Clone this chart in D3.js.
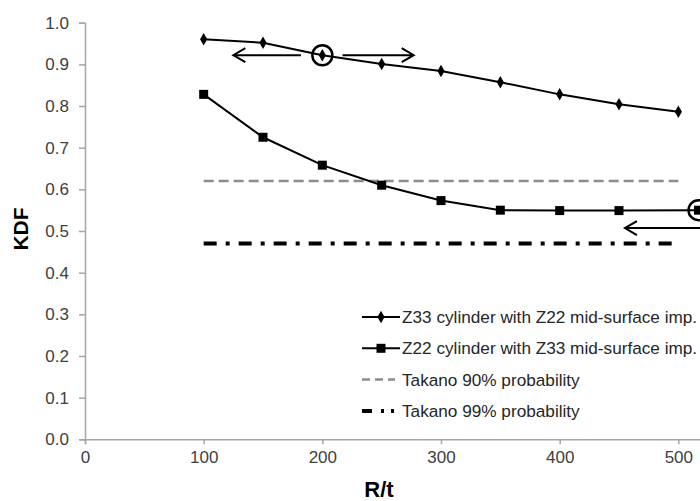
<!DOCTYPE html>
<html>
<head>
<meta charset="utf-8">
<script src="https://cdn.jsdelivr.net/npm/d3@7"></script>
<style>
  body { margin: 0; background: #fff; }
  svg { display: block; font-family: "Liberation Sans", Arial, sans-serif; }
</style>
</head>
<body>
<div id="chart"></div>
<script>
// Data
const rtZ33 = [100, 150, 200, 250, 300, 350, 400, 450, 500];
const kdfZ33 = [0.960, 0.952, 0.922, 0.901, 0.884, 0.857, 0.828, 0.804, 0.786];
const rtZ22 = [100, 150, 200, 250, 300, 350, 400, 450, 517];
const kdfZ22 = [0.828, 0.725, 0.658, 0.610, 0.573, 0.550, 0.549, 0.549, 0.550];
const takanoRange = [100, 500];
const takano90 = 0.620;
const takano99 = 0.470;
const xTicks = [0, 100, 200, 300, 400, 500];
const yTicks = [0, 0.1, 0.2, 0.3, 0.4, 0.5, 0.6, 0.7, 0.8, 0.9, 1.0];
const legendLabels = [
  'Z33 cylinder with Z22 mid-surface imp.',
  'Z22 cylinder with Z33 mid-surface imp.',
  'Takano 90% probability',
  'Takano 99% probability'
];
// annotation circles and arrows (head at x2)
const circlePts = [[200, 0.922], [517, 0.550]];
const arrows = [[182, 125, 0.922], [217, 277, 0.922], [540, 455, 0.507]];

const w = 700;
const h = 501;

const svg = d3.select('#chart').append('svg')
    .attr('width', w)
    .attr('height', h);

// Scales (the x range runs past the right edge, the picture is cropped there)
const x = d3.scaleLinear().domain([0, 600]).range([85, 797]);
const y = d3.scaleLinear().domain([0, 1]).range([439.3, 22.7]);

// Axes
const xAxis = d3.axisBottom(x).tickValues(xTicks).tickFormat(d3.format('d'))
    .tickSize(5).tickPadding(7);
const yAxis = d3.axisLeft(y).tickValues(yTicks).tickFormat(d3.format('.1f'))
    .tickSize(6).tickPadding(10);

const gx = svg.append('g')
    .attr('transform', 'translate(0,' + y(0) + ')')
    .call(xAxis);
const gy = svg.append('g')
    .attr('transform', 'translate(' + x(0) + ',0)')
    .call(yAxis);

[gx, gy].forEach(function(g) {
  g.select('.domain').attr('stroke', '#a6a6a6').attr('stroke-width', 1.5);
  g.selectAll('.tick line').attr('stroke', '#a6a6a6').attr('stroke-width', 1.5);
  g.selectAll('.tick text')
      .attr('fill', '#404040')
      .style('font-size', '17px')
      .style('font-family', '"Liberation Sans", Arial, sans-serif');
});

// Axis titles
svg.append('text')
    .attr('transform', 'translate(28,229) rotate(-90)')
    .attr('text-anchor', 'middle')
    .style('font-size', '21px')
    .style('font-weight', 'bold')
    .text('KDF');

svg.append('text')
    .attr('x', 379)
    .attr('y', 496.5)
    .attr('text-anchor', 'middle')
    .style('font-size', '22px')
    .style('font-weight', 'bold')
    .text('R/t');

const line = d3.line().x((d) => x(d[0])).y((d) => y(d[1]));

// Takano reference lines
svg.append('path')
    .attr('d', line(takanoRange.map((r) => [r, takano90])))
    .attr('fill', 'none')
    .attr('stroke', '#8c8c8c')
    .attr('stroke-width', 2.5)
    .attr('stroke-dasharray', '10,5');

svg.append('path')
    .attr('d', line(takanoRange.map((r) => [r, takano99])))
    .attr('fill', 'none')
    .attr('stroke', '#000')
    .attr('stroke-width', 4)
    .attr('stroke-dasharray', '13,9,4,9');

// Series
const z33 = rtZ33.map((r, i) => [r, kdfZ33[i]]);
const z22 = rtZ22.map((r, i) => [r, kdfZ22[i]]);

svg.append('path')
    .attr('d', line(z33))
    .attr('fill', 'none')
    .attr('stroke', '#000')
    .attr('stroke-width', 2);

svg.append('path')
    .attr('d', line(z22))
    .attr('fill', 'none')
    .attr('stroke', '#000')
    .attr('stroke-width', 2);

const diamond = d3.symbol().type(d3.symbolDiamond).size(45);

svg.selectAll('.diamond')
    .data(z33)
    .enter()
    .append('path')
    .attr('class', 'diamond')
    .attr('d', diamond)
    .attr('transform', (d) => 'translate(' + x(d[0]) + ',' + y(d[1]) + ')')
    .attr('fill', '#000');

svg.selectAll('.square')
    .data(z22)
    .enter()
    .append('rect')
    .attr('class', 'square')
    .attr('x', (d) => x(d[0]) - 4.5)
    .attr('y', (d) => y(d[1]) - 4.5)
    .attr('width', 9)
    .attr('height', 9)
    .attr('fill', '#000');

// Annotation circles
svg.selectAll('.ring')
    .data(circlePts)
    .enter()
    .append('circle')
    .attr('class', 'ring')
    .attr('cx', (d) => x(d[0]))
    .attr('cy', (d) => y(d[1]))
    .attr('r', 10)
    .attr('fill', 'none')
    .attr('stroke', '#000')
    .attr('stroke-width', 2.5);

// Arrows
svg.selectAll('.arrow')
    .data(arrows)
    .enter()
    .append('path')
    .attr('class', 'arrow')
    .attr('d', function(d) {
      const x1 = x(d[0]);
      const x2 = x(d[1]);
      const yy = y(d[2]);
      const dir = x2 < x1 ? 1 : -1;
      return 'M' + x1 + ',' + yy + 'L' + x2 + ',' + yy +
        'M' + (x2 + dir * 12) + ',' + (yy - 7) + 'L' + x2 + ',' + yy +
        'L' + (x2 + dir * 12) + ',' + (yy + 7);
    })
    .attr('fill', 'none')
    .attr('stroke', '#000')
    .attr('stroke-width', 2);

// Legend
const legend = svg.append('g');
const ly = (i) => 317 + i * 31.3;

const items = legend.selectAll('g')
    .data(legendLabels)
    .enter()
    .append('g')
    .attr('transform', (d, i) => 'translate(0,' + ly(i) + ')');

items.append('line')
    .attr('x1', 362)
    .attr('x2', (d, i) => (i === 2 ? 395 : 400))
    .attr('y1', 0)
    .attr('y2', 0)
    .attr('stroke', (d, i) => (i === 2 ? '#8c8c8c' : '#000'))
    .attr('stroke-width', (d, i) => (i === 3 ? 4 : i === 2 ? 2.5 : 2))
    .attr('stroke-dasharray', (d, i) => (i === 2 ? '8,5' : i === 3 ? '10,9,3,7,3,20' : null));

items.filter((d, i) => i === 0)
    .append('path')
    .attr('d', diamond)
    .attr('transform', 'translate(381,0)');

items.filter((d, i) => i === 1)
    .append('rect')
    .attr('x', 376.5)
    .attr('y', -4.5)
    .attr('width', 9)
    .attr('height', 9);

items.append('text')
    .attr('x', 402)
    .attr('y', 6)
    .attr('fill', '#262626')
    .style('font-size', '17.2px')
    .text((d) => d);
</script>
</body>
</html>
